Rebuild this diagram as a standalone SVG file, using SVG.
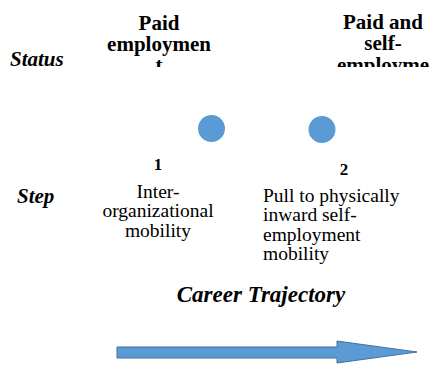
<svg xmlns="http://www.w3.org/2000/svg" width="435" height="365" viewBox="0 0 435 365">
<style>
text{font-family:'Liberation Serif','Times New Roman','DejaVu Serif',serif;fill:#000}
.hdr{font-weight:bold;font-size:21px}
.lbl{font-weight:bold;font-style:italic;font-size:21px}
.num{font-weight:bold;font-size:17px}
.txt{font-size:19.5px}
.dot{fill:#5B9BD5}
</style>
<defs>
<clipPath id="clipTop"><rect x="0" y="0" width="435" height="67"/></clipPath>
</defs>
<rect width="435" height="365" fill="#fff"/>
<g id="status-label"><text class="lbl" x="10" y="66">Status</text></g>
<g id="step-label"><text class="lbl" x="17" y="203">Step</text></g>
<g id="status-1" clip-path="url(#clipTop)">
<text class="hdr" text-anchor="middle" x="159" y="30">Paid</text>
<text class="hdr" text-anchor="middle" x="159" y="51">employmen</text>
<text class="hdr" text-anchor="middle" x="159" y="72">t</text>
</g>
<g id="status-2" clip-path="url(#clipTop)">
<text class="hdr" text-anchor="middle" x="383" y="29">Paid and</text>
<text class="hdr" text-anchor="middle" x="383" y="50">self-</text>
<text class="hdr" text-anchor="middle" x="383" y="72">employme</text>
</g>
<g id="step-1">
<circle class="dot" cx="211.5" cy="128.5" r="13.5"/>
<text class="num" text-anchor="middle" x="158" y="170">1</text>
<text class="txt" text-anchor="middle" x="158" y="198">Inter-</text>
<text class="txt" text-anchor="middle" x="158" y="217">organizational</text>
<text class="txt" text-anchor="middle" x="158" y="237">mobility</text>
</g>
<g id="step-2">
<circle class="dot" cx="322" cy="129.5" r="13.5"/>
<text class="num" text-anchor="middle" x="344" y="175">2</text>
<text class="txt" x="263" y="202">Pull to physically</text>
<text class="txt" x="263" y="221">inward self-</text>
<text class="txt" x="263" y="241">employment</text>
<text class="txt" x="263" y="260">mobility</text>
</g>
<g id="career-trajectory">
<text class="lbl" text-anchor="middle" x="261" y="302" style="font-size:23px">Career Trajectory</text>
</g>
<g id="connectors">
<polygon points="117,347 337,347 337,341 417,352 337,363 337,358 117,358" fill="#5B9BD5" stroke="#41719C" stroke-width="1"/>
</g>
</svg>
